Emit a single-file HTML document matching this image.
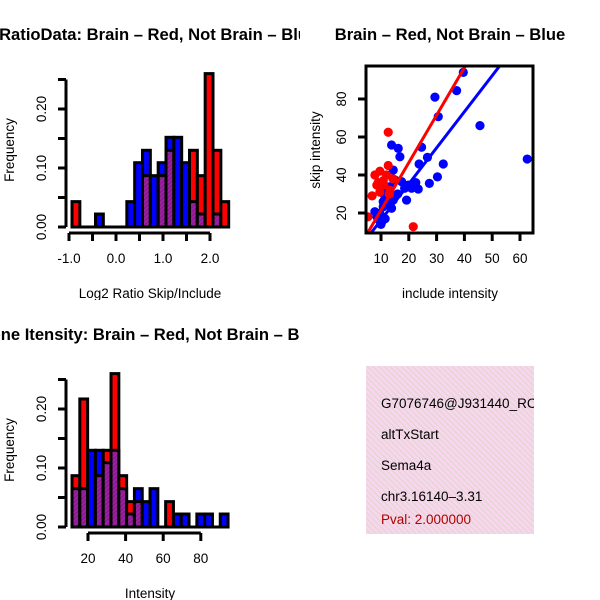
<!DOCTYPE html>
<html><head><meta charset="utf-8"><style>
html,body{margin:0;padding:0;background:#fff;}
svg{display:block;font-family:"Liberation Sans",sans-serif;}
</style></head><body>
<svg id="c" width="600" height="600" viewBox="0 0 600 600">
<defs>
<pattern id="hatch" patternUnits="userSpaceOnUse" width="4" height="4" patternTransform="rotate(-45)">
<rect width="4" height="4" fill="#f8d6f0"/><rect width="1.2" height="4" fill="#e2d6cc"/>
</pattern>
<pattern id="purp" patternUnits="userSpaceOnUse" width="3" height="3" patternTransform="rotate(45)">
<rect width="3" height="3" fill="#a020a0"/><rect width="1" height="3" fill="#7a1a8a"/>
</pattern>
<clipPath id="leftTop"><rect x="0" y="0" width="300" height="300"/></clipPath>
<clipPath id="leftBot"><rect x="0" y="0" width="300" height="300"/></clipPath>
</defs>
<g id="h1" clip-path="url(#leftTop)"></g>
<g transform="translate(0,300)"><g id="h2" clip-path="url(#leftBot)"></g></g>
<g id="sc"></g>
<g>
<rect x="366" y="366" width="168" height="168" fill="url(#hatch)"/>
<text x="381" y="408" font-size="13.5">G7076746@J931440_RC</text>
<text x="381" y="439" font-size="13.5">altTxStart</text>
<text x="381" y="470" font-size="13.5">Sema4a</text>
<text x="381" y="501" font-size="13.5">chr3.16140–3.31</text>
<text x="381" y="524" font-size="13.5" fill="#b00000">Pval: 2.000000</text>
</g>
<rect x="534" y="366" width="66" height="168" fill="#fff"/>
</svg>
<script>
// ---- Histogram 1: log2 ratio ----
const h1Red  = [0.043,0,0,0,0,0,0,0,0,0.087,0,0.087,0.13,0,0,0.13,0.087,0.26,0.13,0.043];
const h1Blue = [0,0,0,0.022,0,0,0,0.043,0.109,0.13,0.087,0.109,0.152,0.152,0.109,0.043,0.022,0,0.022,0];
const h1XTicks = [-1.0,-0.5,0.0,0.5,1.0,1.5,2.0];
const h1XLabels = ["-1.0","","0.0","","1.0","","2.0"];
const h1Start = -0.936, h1Width = 1/6;
// ---- Histogram 2: intensity ----
const h2Red  = [0.087,0.217,0,0.087,0.13,0.26,0.087,0.043,0.043,0,0,0,0.043,0,0,0,0,0,0,0];
const h2Blue = [0.065,0.065,0.13,0.13,0.109,0.13,0.065,0.022,0.065,0.043,0.065,0,0,0.022,0.022,0,0.022,0.022,0,0.022];
const h2XTicks = [20,40,60,80];
const h2Start = 11.5, h2Width = 4.15;
const yTicks = [0,0.05,0.10,0.15,0.20,0.25];
const yLabels = ["0.00","","0.10","","0.20",""];
// ---- Scatter ----
const redX = [12.6,21.6,12.6,9.6,6.8,8.5,10.8,12,13.2,5.3,9.6,7.8,14.3,11,9,13];
const redY = [62.5,12.8,45,42,29,34.7,37,40,32,18,31,40,38,35,36,30];
const blueX = [39.6,37.2,29.4,30.6,45.6,62.6,13.8,16.2,16.8,24.6,26.7,23.7,32.4,30.3,27.4,23.4,19.2,14.4,15,17.4,19.8,21,18.5,13.2,12,11.4,10.8,12.6,13.8,10.8,9.6,8.5,10.3,7.8,14.4,16,22.5,10,11.5,9.5];
const blueY = [94,84.4,81,70.7,66,48.4,55.8,54,49.6,54.6,49.3,45.8,45.8,39,35.6,32.6,26.8,42.6,37.4,36.5,34.7,33,33,33.8,31.2,28.6,26,25,22.5,23.3,19.8,18,15.4,20.7,26.8,30,36,14,17,16];
const scXTicks = [10,20,30,40,50,60];
const scYTicks = [20,40,60,80];
const redLine = [-3.5, 2.5];   // intercept, slope
const blueLine = [-2.7, 1.9];

const NS="http://www.w3.org/2000/svg";
function mk(parent,tag,attrs,name){const e=document.createElementNS(NS,tag);for(const k in attrs)e.setAttribute(k,attrs[k]);


parent.appendChild(e);return e;}
function txt(parent,x,y,s,size,name,extra){const t=mk(parent,'text',Object.assign({x:x,y:y,'font-size':size,'text-anchor':'middle'},extra||{}),name);t.textContent=s;return t;}
const TF=13.5, TITLEF=16.6;

function hist(g,red,blue,start,width,xOf,ticks,labels,axisFrom,axisTo,title,titleX,xlab){
  const yOf=v=>227-v*590;
  for(let i=0;i<red.length;i++){
    const x0=xOf(start+i*width), x1=xOf(start+(i+1)*width);
    const r=red[i], b=blue[i], hi=Math.max(r,b), lo=Math.min(r,b);
    if(hi<=0) continue;
    mk(g,'rect',{x:x0,y:yOf(hi),width:x1-x0,height:yOf(0)-yOf(hi),fill:r>=b?'#ff0000':'#0000ff',stroke:'#000','stroke-width':3},'bar-'+i);
    if(lo>0) mk(g,'rect',{x:x0,y:yOf(lo),width:x1-x0,height:yOf(0)-yOf(lo),fill:'url(#purp)',stroke:'#000','stroke-width':3},'overlap-bar-'+i);
  }
  mk(g,'line',{x1:xOf(start),x2:xOf(start+red.length*width),y1:227,y2:227,stroke:'#000','stroke-width':3},'baseline');
  mk(g,'line',{x1:66,x2:66,y1:yOf(0),y2:yOf(0.25),stroke:'#000','stroke-width':3},'y-axis');
  yTicks.forEach((v,i)=>{mk(g,'line',{x1:58,x2:66,y1:yOf(v),y2:yOf(v),stroke:'#000','stroke-width':3},'y-tick');
    if(yLabels[i]) txt(g,0,0,yLabels[i],TF,'y-tick-label',{transform:`translate(46,${yOf(v)}) rotate(-90)`});});
  mk(g,'line',{x1:xOf(axisFrom),x2:xOf(axisTo),y1:233,y2:233,stroke:'#000','stroke-width':3},'x-axis');
  ticks.forEach((v,i)=>{mk(g,'line',{x1:xOf(v),x2:xOf(v),y1:233,y2:241,stroke:'#000','stroke-width':3},'x-tick');
    if(labels[i]) txt(g,xOf(v),263,labels[i],TF,'x-tick-label');});
  txt(g,titleX,40,title,TITLEF,'plot-title',{'font-weight':'bold'});
  txt(g,150,298,xlab,TF,'x-axis-title');
  txt(g,0,0,'Frequency',TF,'y-axis-title',{transform:'translate(14,150) rotate(-90)'});
}
const g1=document.getElementById('h1');
hist(g1,h1Red,h1Blue,h1Start,h1Width,v=>116+47*v,h1XTicks,h1XLabels,-1,2,'Log2 RatioData: Brain – Red, Not Brain – Blue',136,'Log2 Ratio Skip/Include');
const g2=document.getElementById('h2');
hist(g2,h2Red,h2Blue,h2Start,h2Width,v=>88+1.88*(v-20),h2XTicks,h2XTicks.map(String),20,80,'Gene Itensity: Brain – Red, Not Brain – Blue',151,'Intensity');

const sc=document.getElementById('sc');
const sx=v=>381+2.78*(v-10), sy=v=>213-1.9*(v-20);
const clip=mk(sc,'clipPath',{id:'scclip'},'scatter-clip');
mk(clip,'rect',{x:366,y:66,width:167,height:167},'clip-rect');
const inner=mk(sc,'g',{'clip-path':'url(#scclip)'},'scatter-area');
blueX.forEach((v,i)=>mk(inner,'circle',{cx:sx(v),cy:sy(blueY[i]),r:4.6,fill:'#0000ff'},'blue-point'));
redX.forEach((v,i)=>mk(inner,'circle',{cx:sx(v),cy:sy(redY[i]),r:4.6,fill:'#ff0000'},'red-point'));
[[redLine,'#ff0000','red-fit-line'],[blueLine,'#0000ff','blue-fit-line']].forEach(([l,c,n])=>{
  mk(inner,'line',{x1:sx(0),y1:sy(l[0]),x2:sx(80),y2:sy(l[0]+l[1]*80),stroke:c,'stroke-width':3},n);});
mk(sc,'rect',{x:366,y:66,width:167,height:167,fill:'none',stroke:'#000','stroke-width':3},'plot-frame');
scXTicks.forEach(v=>{mk(sc,'line',{x1:sx(v),x2:sx(v),y1:233,y2:241,stroke:'#000','stroke-width':3},'x-tick');txt(sc,sx(v),263,String(v),TF,'x-tick-label');});
scYTicks.forEach(v=>{mk(sc,'line',{x1:358,x2:366,y1:sy(v),y2:sy(v),stroke:'#000','stroke-width':3},'y-tick');txt(sc,0,0,String(v),TF,'y-tick-label',{transform:`translate(346,${sy(v)}) rotate(-90)`});});
txt(sc,450,40,'Brain – Red, Not Brain – Blue',TITLEF,'plot-title',{'font-weight':'bold'});
txt(sc,450,298,'include intensity',TF,'x-axis-title');
txt(sc,0,0,'skip intensity',TF,'y-axis-title',{transform:'translate(320,150) rotate(-90)'});
</script>
</body></html>
